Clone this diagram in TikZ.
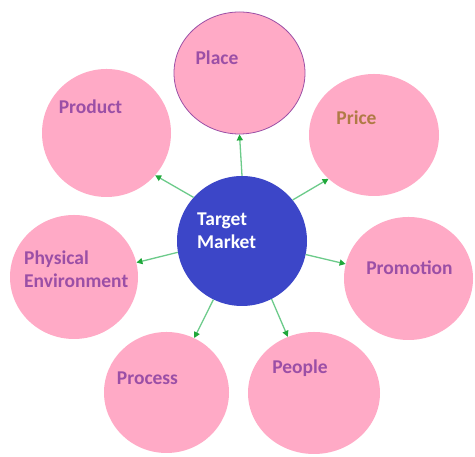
\documentclass[tikz,border=0pt]{standalone}
\usepackage{fontspec}
\setmainfont{Carlito}
\usetikzlibrary{shapes.geometric,arrows.meta}
\definecolor{pinkfill}{HTML}{FFAAC6}
\definecolor{purtext}{HTML}{9B4FA6}
\definecolor{brtext}{HTML}{B07A45}
\definecolor{tmblue}{HTML}{3C46C8}
\definecolor{arrline}{HTML}{6CCB8A}
\definecolor{arrtip}{HTML}{1FA83A}
\begin{document}
\begin{tikzpicture}[x=1pt,y=1pt,
  outer/.style={ellipse,fill=pinkfill,draw=none,inner sep=0pt},
  lbl/.style={font=\fontsize{19.5}{23}\selectfont\bfseries,text=purtext,inner sep=0pt},
  conn/.style={draw=arrline,line width=1.3pt,-{Triangle[length=6pt,width=6pt,fill=arrtip,color=arrtip]}}]
\useasboundingbox[fill=white] (0,0) rectangle (475,457);
% circles
\node[outer,draw=purtext,line width=0.8pt,minimum width=131pt,minimum height=122pt] (place) at (239.5,384) {};
\node[outer,minimum width=130pt,minimum height=122pt] (price) at (374,322) {};
\node[outer,minimum width=129pt,minimum height=123pt] (promo) at (408.5,178.5) {};
\node[outer,minimum width=132pt,minimum height=122pt] (people) at (314,64) {};
\node[outer,minimum width=125pt,minimum height=121pt] (process) at (166.5,64.5) {};
\node[outer,minimum width=128pt,minimum height=124pt] (phys) at (74,180) {};
\node[outer,minimum width=129pt,minimum height=128pt] (product) at (106.5,324) {};
\node[circle,fill=tmblue,minimum size=130pt,inner sep=0pt] (tm) at (242,216) {};
% labels
\node[lbl] (placet) at (217,399) {Place};
\node[lbl,text=brtext] (pricet) at (356.5,339) {Price};
\node[lbl] (productt) at (90.5,350) {Product};
\node[lbl] (promot) at (409.5,189) {Promotion};
\node[lbl,align=left,anchor=west] (physt) at (24,188) {Physical\\Environment};
\node[lbl] (processt) at (147.5,79) {Process};
\node[lbl] (peoplet) at (300,89) {People};
\node[lbl,text=white,align=left,anchor=west] (tmt) at (197,226.5) {Target\\Market};
% connectors
\draw[conn] (tm.90) -- (place.-90);
\draw[conn] (tm.39) -- (price.224);
\draw[conn] (tm.-12) -- (promo.167);
\draw[conn] (tm.-63) -- (people.115);
\draw[conn] (tm.-116) -- (process.63);
\draw[conn] (tm.190) -- (phys.13);
\draw[conn] (tm.138) -- (product.-41);
\end{tikzpicture}
\end{document}
